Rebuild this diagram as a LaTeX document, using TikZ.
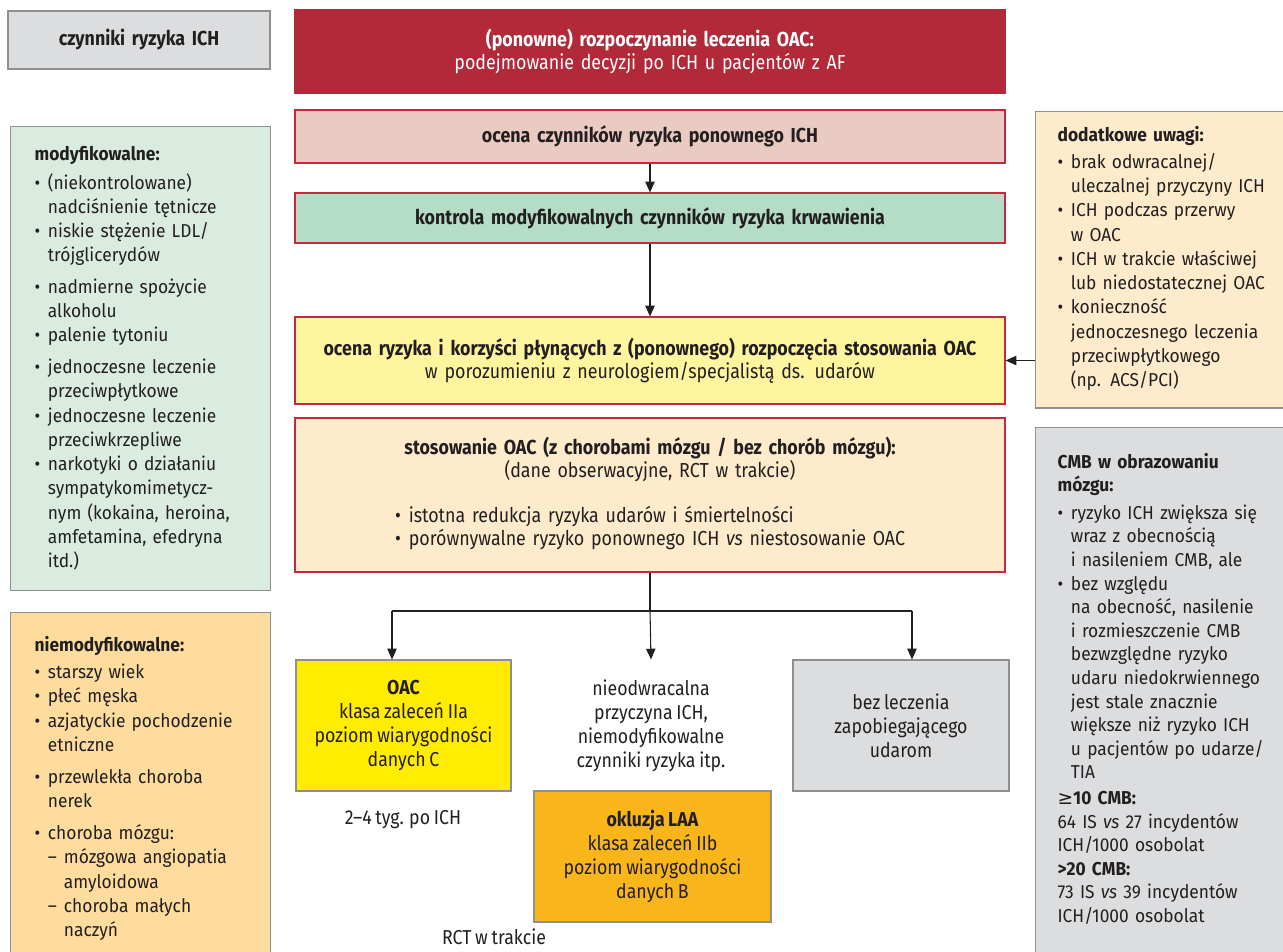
\documentclass[tikz,border=0pt]{standalone}
\usepackage{fontspec}
\setmainfont{Fira Sans}
\newfontfamily\condensed{Fira Sans}[FakeStretch=0.88,WordSpace=0.8]
\newfontfamily\sidefont{Fira Sans}[FakeStretch=0.93]
\newfontfamily\symfont{DejaVu Sans}
\usetikzlibrary{positioning,arrows.meta,calc}

\definecolor{inkdark}{HTML}{231F20}
\definecolor{redtop}{HTML}{B22A3A}
\definecolor{redline}{HTML}{C8283C}
\definecolor{grayline}{HTML}{8F8F8F}
\definecolor{pinkbox}{HTML}{EACBC1}
\definecolor{mintbox}{HTML}{B4DCC6}
\definecolor{leftgreen}{HTML}{D9ECDF}
\definecolor{paleyellow}{HTML}{FFF59E}
\definecolor{beigebox}{HTML}{FDEBCC}
\definecolor{oacyellow}{HTML}{FFEC00}
\definecolor{laaorange}{HTML}{F9B61A}
\definecolor{leftorange}{HTML}{FDDC9E}
\definecolor{graybox}{HTML}{DCDDDF}

\newcommand*{\itm}[1]{\par\hangindent=10pt\hangafter=1\noindent
  \hbox to 10pt{\textbullet\hss}#1}
\newcommand*{\subitm}[1]{\par\hangindent=22pt\hangafter=1\noindent
  \hspace*{10pt}\hbox to 12pt{–\hss}#1}
\newcommand*{\itemgap}[1][5.5pt]{\par\vspace{#1}}

\begin{document}
\begin{tikzpicture}[x=0.75pt,y=-0.75pt,
  flowbox/.style={draw=redline,line width=0.9pt,minimum width=532.5pt,
    text width=520pt,align=center,inner sep=0pt,text=inkdark,
    font=\condensed\fontsize{15.2}{17.25}\selectfont},
  endbox/.style={draw=grayline,line width=0.9pt,minimum height=98.25pt,
    align=center,inner sep=0pt,text=inkdark,
    font=\condensed\fontsize{15.1}{18}\selectfont},
  sidebox/.style={draw=grayline,line width=0.9pt,anchor=north west,
    align=left,text=inkdark,inner xsep=18pt,inner ysep=15pt,text width=159pt,
    font=\sidefont\fontsize{14}{18.2}\selectfont},
  arr/.style={-{Triangle[length=8pt,width=7pt]},line width=0.8pt,draw=inkdark}]
\useasboundingbox (0,0) rectangle (1283,951);
\clip (0,0) rectangle (1283,951);

% left column: risk factors
\node[sidebox,fill=graybox,anchor=center,minimum height=43.5pt,
  minimum width=196.5pt,inner sep=0pt,text width=180pt,align=center,
  font=\condensed\fontsize{15.2}{17.25}\selectfont\bfseries]
  (riskhdr) at (139,40) {czynniki ryzyka ICH};
\node[sidebox,fill=leftgreen] (modif) at (10,126) {%
  \textbf{modyfikowalne:}\par\vspace{3pt}
  \itm{(niekontrolowane)\newline nadciśnienie tętnicze}
  \itm{niskie stężenie LDL/\newline trójglicerydów}
  \itemgap
  \itm{nadmierne spożycie\newline alkoholu}
  \itm{palenie tytoniu}
  \itemgap
  \itm{jednoczesne leczenie\newline przeciwpłytkowe}
  \itm{jednoczesne leczenie\newline przeciwkrzepliwe}
  \itm{narkotyki o działaniu\newline sympatykomimetycz-\newline
    nym (kokaina, heroina,\newline amfetamina, efedryna\newline itd.)}\par};
\node[sidebox,fill=leftorange,inner ysep=18pt] (nonmodif) at (10,612) {%
  \textbf{niemodyfikowalne:}\par\vspace{2pt}
  \itm{starszy wiek}
  \itm{płeć męska}
  \itm{azjatyckie pochodzenie\newline etniczne}
  \itemgap
  \itm{przewlekła choroba\newline nerek}
  \itemgap[6pt]
  \itm{choroba mózgu:}
  \subitm{mózgowa angiopatia\newline amyloidowa}
  \subitm{choroba małych\newline naczyń}\par\vspace{40pt}};

% central flow
\node[flowbox,draw=redtop,fill=redtop,text=white,minimum height=62.25pt]
  (start) at (650,51.5)
  {\textbf{(ponowne) rozpoczynanie leczenia OAC:}\\
   podejmowanie decyzji po ICH u pacjentów z AF};
\node[flowbox,fill=pinkbox,minimum height=39.75pt] (reassess) at (650,136.5)
  {\textbf{ocena czynników ryzyka ponownego ICH}};
\node[flowbox,fill=mintbox,minimum height=37.5pt] (control) at (650,218)
  {\textbf{kontrola modyfikowalnych czynników ryzyka krwawienia}};
\node[flowbox,fill=paleyellow,minimum height=65.25pt] (weigh) at (650,360.5)
  {\textbf{ocena ryzyka i korzyści płynących z (ponownego) rozpoczęcia stosowania OAC}\\
   w porozumieniu z neurologiem/specjalistą ds. udarów};
\node[flowbox,fill=beigebox,minimum height=115.5pt] (useoac) at (650,495)
  {\textbf{stosowanie OAC (z chorobami mózgu / bez chorób mózgu):}\\
   (dane obserwacyjne, RCT w trakcie)\\[17pt]
   \begin{tabular}{@{}l@{}}
   \textbullet\hspace{6pt}istotna redukcja ryzyka udarów i śmiertelności\\
   \textbullet\hspace{6pt}porównywalne ryzyko ponownego ICH \textit{vs} niestosowanie OAC
   \end{tabular}};

% decision outcomes
\node[endbox,fill=oacyellow,minimum width=161.25pt] (oac) at (403.5,725.5)
  {\textbf{OAC}\\ klasa zaleceń IIa\\ poziom wiarygodności\\ danych C};
\node[endbox,draw=none,minimum width=150pt] (irrev) at (651,725.5)
  {nieodwracalna\\ przyczyna ICH,\\ niemodyfikowalne\\ czynniki ryzyka itp.};
\node[endbox,fill=graybox,minimum width=162pt] (nostroke) at (901,725.5)
  {bez leczenia\\ zapobiegającego\\ udarom};
\node[endbox,fill=laaorange,minimum width=177.75pt] (laa) at (652.5,856.5)
  {\textbf{okluzja LAA}\\ klasa zaleceń IIb\\ poziom wiarygodności\\ danych B};
\node[endbox,draw=none,minimum height=0pt] (timing) at (403,820) {2–4 tyg. po ICH};
\node[endbox,draw=none,minimum height=0pt] (rct) at (494,937) {RCT w trakcie};

% right column: notes
\node[sidebox,fill=beigebox,inner xsep=16.5pt,inner ysep=11pt,text width=180pt]
  (extra) at (1035,111) {%
  \textbf{dodatkowe uwagi:}\par\vspace{2pt}
  \itm{brak odwracalnej/\newline uleczalnej przyczyny ICH}
  \itm{ICH podczas przerwy\newline w OAC}
  \itm{ICH w trakcie właściwej\newline lub niedostatecznej OAC}
  \itm{konieczność\newline jednoczesnego leczenia\newline przeciwpłytkowego\newline
    (np. ACS/PCI)}\par\vspace{2pt}};
\node[sidebox,fill=graybox,inner xsep=16.5pt,inner ysep=19pt,text width=180pt,
  font=\sidefont\fontsize{14}{17.7}\selectfont] (cmb) at (1035,427) {%
  \textbf{CMB w obrazowaniu\newline mózgu:}\par\vspace{3pt}
  \itm{ryzyko ICH zwiększa się\newline wraz z obecnością\newline
    i nasileniem CMB, ale}
  \itm{bez względu\newline na obecność, nasilenie\newline i rozmieszczenie CMB\newline
    bezwzględne ryzyko\newline udaru niedokrwiennego\newline jest stale znacznie\newline
    większe niż ryzyko ICH\newline u pacjentów po udarze/\newline TIA}
  \par\vspace{1.5pt}\noindent
  {\symfont ≥}\textbf{10 CMB:}\newline
  64 IS \textit{vs} 27 incydentów\newline
  ICH/1000 osobolat\newline
  \textbf{>20 CMB:}\newline
  73 IS \textit{vs} 39 incydentów\newline
  ICH/1000 osobolat\par\vspace{40pt}};

% connectors
\coordinate (split) at (650,611);
\coordinate (lsplit) at (392,611);
\coordinate (rsplit) at (912,611);
\draw[arr] (reassess.south) -- (control.north);
\draw[arr] (control.south) -- (weigh.north);
\draw[arr] (extra.west |- weigh.east) -- (weigh.east);
\draw[line width=0.8pt,draw=inkdark] (useoac.south) -- (split);
\draw[line width=0.8pt,draw=inkdark] (lsplit) -- (rsplit);
\draw[arr] (lsplit) -- (lsplit |- oac.north);
\draw[arr] (split) -- (irrev.north);
\draw[arr] (rsplit) -- (rsplit |- nostroke.north);
\end{tikzpicture}
\end{document}
